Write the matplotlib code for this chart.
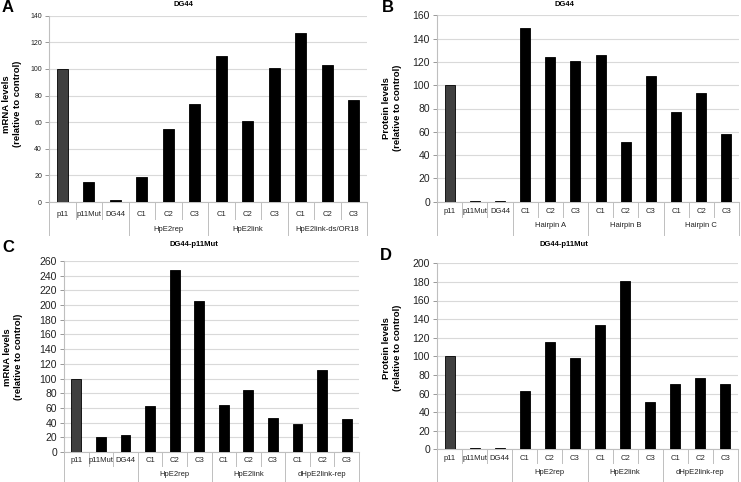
import matplotlib
matplotlib.use("Agg")
import matplotlib.pyplot as plt
from matplotlib.transforms import blended_transform_factory

plt.rcParams['font.family'] = ['Liberation Sans', 'DejaVu Sans']

categories = ["p11", "p11Mut", "DG44", "C1", "C2", "C3", "C1", "C2", "C3", "C1", "C2", "C3"]

groups_A = ["", "HpE2rep", "HpE2link", "HpE2link-ds/OR18"]
values_A = [100, 14.8, 1.5, 18.5, 54.5, 74, 110, 61, 100.5, 127, 103, 77]

groups_B = ["", "Hairpin A", "Hairpin B", "Hairpin C"]
values_B = [100, 0.9, 0.9, 149, 124.5, 120.5, 126, 51, 107.5, 77, 93, 58.5]

groups_C = ["", "HpE2rep", "HpE2link", "dHpE2link-rep"]
values_C = [100, 20.5, 22.5, 63, 248, 205.5, 64, 85, 46, 38, 112, 45]

groups_D = ["", "HpE2rep", "HpE2link", "dHpE2link-rep"]
values_D = [100, 1.0, 1.0, 63, 115, 98, 134, 181, 51, 70, 77, 70]

W, H = 741, 482
fig = plt.figure(figsize=(W / 100, H / 100), dpi=100)

GRID = "#d9d9d9"
AXC = "#bfbfbf"


def make_panel(rect_px, values, groups, ymax, ystep, ylabel, title, title_xy,
               letter, letter_xy, ylabel_xy, ytick_fs, rows):
    x0, y_top, x1, y_bot = rect_px
    ax = fig.add_axes([x0 / W, 1 - y_bot / H, (x1 - x0) / W, (y_bot - y_top) / H])
    hpx = y_bot - y_top
    n = len(values)
    xs = list(range(n))
    colors = ["#404040"] + ["black"] * (n - 1)
    ax.bar(xs, values, width=0.4, color=colors, edgecolor="black", linewidth=0.6, zorder=3)
    ax.set_xlim(-0.5, n - 0.5)
    ax.set_ylim(0, ymax)
    ax.set_yticks(range(0, ymax + 1, ystep))
    ax.tick_params(axis="y", labelsize=ytick_fs, colors="#888888", length=3, width=0.6,
                   labelcolor="#222222", pad=2)
    ax.set_xticks([])
    ax.grid(axis="y", color=GRID, linewidth=0.8, zorder=0)
    for s in ["top", "right"]:
        ax.spines[s].set_visible(False)
    ax.spines["left"].set_color(AXC)
    ax.spines["bottom"].set_color(AXC)
    ax.spines["left"].set_linewidth(0.8)
    ax.spines["bottom"].set_linewidth(0.8)

    lab_off, sep_end, grp_off, grp_end = rows
    tr = blended_transform_factory(ax.transData, ax.transAxes)
    f = lambda px: -px / hpx
    for i in range(n + 1):
        xb = i - 0.5
        end = grp_end if i % 3 == 0 else sep_end
        ax.plot([xb, xb], [0, f(end)], transform=tr, color=AXC, lw=0.7, clip_on=False)
    for i, c in enumerate(categories):
        ax.text(i, f(lab_off), c, transform=tr, ha="center", va="center", fontsize=5.5,
                color="#222222")
    for g, name in enumerate(groups):
        if name:
            ax.text(3 * g + 1, f(grp_off), name, transform=tr, ha="center", va="center",
                    fontsize=5.5, color="#222222")

    fig.text(ylabel_xy[0] / W, 1 - ylabel_xy[1] / H, ylabel, rotation=90,
             ha="center", va="center", fontsize=6.8, fontweight="bold", linespacing=1.15)
    fig.text(title_xy[0] / W, 1 - title_xy[1] / H, title, ha="center", va="center",
             fontsize=5.5, fontweight="bold")
    fig.text(letter_xy[0] / W, 1 - letter_xy[1] / H, letter, ha="center", va="center",
             fontsize=12, fontweight="bold")
    return ax


make_panel((49, 15.7, 367, 202), values_A, groups_A, 140, 20,
           "mRNA levels\n(relative to control)", "DG44", (183, 5), "A", (8, 8), (12, 104), 5,
           (12, 17, 27, 33))
make_panel((437, 15.3, 739, 201.7), values_B, groups_B, 160, 20,
           "Protein levels\n(relative to control)", "DG44", (564, 5), "B", (388, 7), (392, 108), 7.5,
           (10, 15, 24, 33))
make_panel((64, 261, 359, 452), values_C, groups_C, 260, 20,
           "mRNA levels\n(relative to control)", "DG44-p11Mut", (194, 245), "C", (8, 248), (13, 357), 7.5,
           (9, 14, 23, 30))
make_panel((437, 263.3, 738, 449.3), values_D, groups_D, 200, 20,
           "Protein levels\n(relative to control)", "DG44-p11Mut", (564, 245), "D", (386, 255), (392, 348), 7.5,
           (9, 14, 23.7, 33))

fig.savefig("out.png", dpi=100)
